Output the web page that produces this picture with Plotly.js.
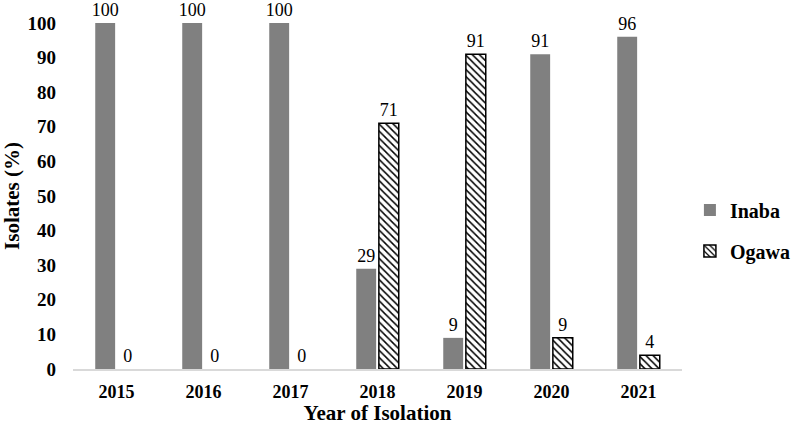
<!DOCTYPE html>
<html>
<head>
<meta charset="utf-8">
<script src="https://cdn.plot.ly/plotly-3.0.1.min.js"></script>
<style>
  html, body { margin: 0; padding: 0; background: #fff; }
  #chart { width: 797px; height: 425px; }
</style>
</head>
<body>
<div id="chart"></div>
<script>
// data
const years = ['2015', '2016', '2017', '2018', '2019', '2020', '2021'];
const inaba = [100, 100, 100, 29, 9, 91, 96];
const ogawa = [0, 0, 0, 71, 91, 9, 4];

const serif = '"Liberation Serif", serif';

// Ogawa points: non-empty ones first so the legend swatch picks up an outline,
// empty bars get no outline (axis order is fixed by categoryarray below)
const ogOrder = years.map((_, i) => i).sort((a, b) => (ogawa[b] > 0) - (ogawa[a] > 0));
const ogX = ogOrder.map(i => years[i]);
const ogY = ogOrder.map(i => ogawa[i]);

const traces = [
  {
    type: 'bar', name: 'Inaba', x: years, y: inaba,
    legendgroup: 'a',
    marker: { color: '#808080' },
    text: inaba.map(String), textposition: 'outside', constraintext: 'none',
    textfont: { family: serif, size: 18, color: '#000' },
    cliponaxis: false
  },
  {
    type: 'bar', name: 'Ogawa', x: ogX, y: ogY,
    legendgroup: 'b',
    marker: {
      color: '#fff',
      line: { color: '#000', width: ogY.map(v => v > 0 ? 1.5 : 0) },
      pattern: { shape: '\\', fgcolor: '#000', bgcolor: '#fff', size: 5, solidity: 0.3 }
    },
    text: ogY.map(String), textposition: 'outside', constraintext: 'none',
    textfont: { family: serif, size: 18, color: '#000' },
    cliponaxis: false
  }
];

const layout = {
  width: 797, height: 425,
  margin: { l: 73, r: 115, t: 23, b: 56, autoexpand: false },
  paper_bgcolor: '#fff', plot_bgcolor: '#fff',
  barmode: 'group', bargap: 0.48, bargroupgap: 0.12,
  font: { family: serif, color: '#000' },
  xaxis: {
    type: 'category', categoryorder: 'array', categoryarray: years,
    showline: true, linecolor: '#d9d9d9', linewidth: 1.5,
    ticks: '', showgrid: false, zeroline: false,
    ticklabelstandoff: 6,
    tickfont: { family: serif, size: 18, color: '#000', weight: 'bold' },
    title: { text: 'Year of Isolation', font: { family: serif, size: 21, color: '#000', weight: 'bold' }, standoff: 3 }
  },
  yaxis: {
    range: [0, 100], dtick: 10, showgrid: false, zeroline: false,
    showline: false, ticks: '',
    ticklabelstandoff: 16,
    tickfont: { family: serif, size: 19, color: '#000', weight: 'bold' },
    title: { text: 'Isolates (%)', font: { family: serif, size: 21, color: '#000', weight: 'bold' }, standoff: 4 }
  },
  showlegend: true,
  legend: {
    x: 1.013, xanchor: 'left', y: 0.40, yanchor: 'middle',
    traceorder: 'grouped', tracegroupgap: 12,
    font: { family: serif, size: 20, color: '#000', weight: 'bold' },
    itemwidth: 30
  }
};

Plotly.newPlot('chart', traces, layout, { displayModeBar: false, staticPlot: true });
</script>
</body>
</html>
